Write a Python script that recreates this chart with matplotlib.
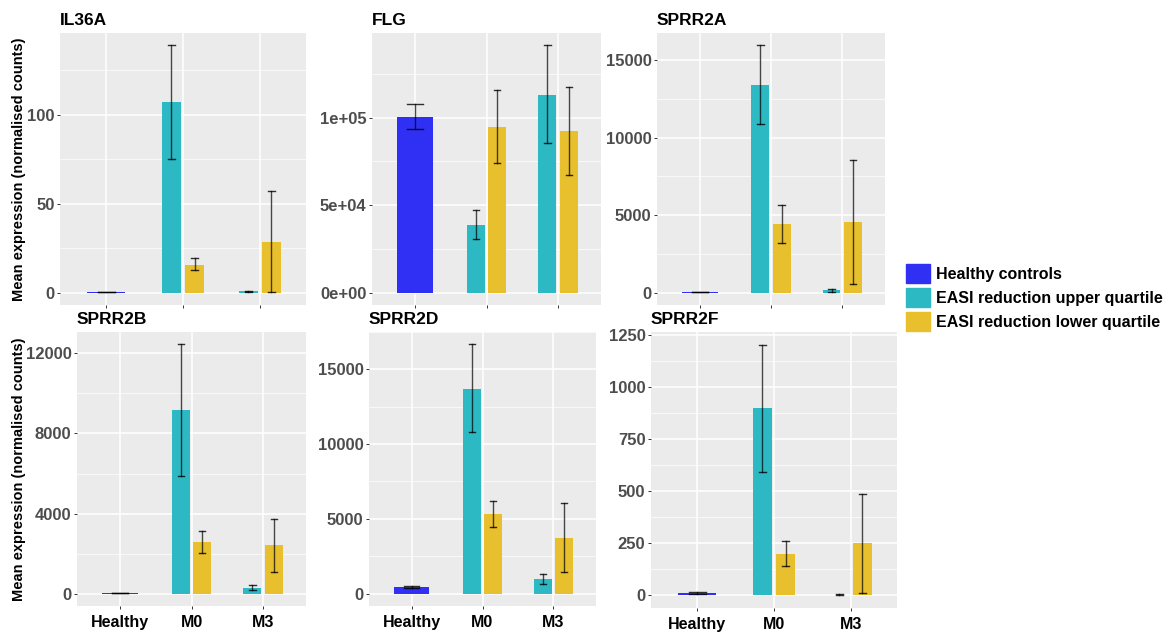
import matplotlib.pyplot as plt
from matplotlib.patches import Patch
import numpy as np

plt.rcParams['font.family'] = ['Liberation Sans', 'DejaVu Sans']

# data
genes = ["IL36A", "FLG", "SPRR2A", "SPRR2B", "SPRR2D", "SPRR2F"]
groups = ["Healthy", "M0", "M3"]
legend_labels = ["Healthy controls", "EASI reduction upper quartile", "EASI reduction lower quartile"]

healthy = [0.3, 100500, 20, 30, 420, 10]
healthy_lo = [0.1, 93700, 10, 20, 350, 5]
healthy_hi = [0.5, 107800, 30, 40, 500, 17]

# [M0, M3]
upper_q = [[106.9, 0.8], [38600, 112900], [13380, 150], [9170, 283], [13680, 1004], [900, 3]]
upper_q_lo = [[75.3, 0.4], [30500, 85400], [10880, 60], [5880, 180], [10820, 620], [591, 1]]
upper_q_hi = [[138.9, 1.2], [47160, 141300], [15940, 250], [12450, 420], [16670, 1340], [1204, 6]]

lower_q = [[15.8, 28.4], [94900, 92200], [4420, 4580], [2600, 2420], [5310, 3720], [200, 250]]
lower_q_lo = [[12.6, 0.2], [74000, 67000], [3180, 580], [2050, 1080], [4460, 1410], [143, 13]]
lower_q_hi = [[19.5, 57.1], [115700, 117600], [5670, 8550], [3130, 3720], [6160, 6090], [260, 488]]

y_steps = [50, 50000, 5000, 4000, 5000, 250]

colors = ['#3030F5', '#2DB9C3', '#E8BF2D']
W, H = 1175, 637
# panel boxes in pixels (left, top, right, bottom)
boxes = [(60, 33, 306, 305), (372, 33, 601, 305), (657, 33, 885, 305),
         (77, 332, 306, 606), (369, 332, 596, 606), (651, 332, 897, 608)]

fig = plt.figure(figsize=(W / 100, H / 100), dpi=100)


def errbar(ax, x, lo, hi, cap):
    ax.plot([x, x], [lo, hi], color='black', lw=1, alpha=0.7, zorder=4)
    for y in (lo, hi):
        ax.plot([x - cap / 2, x + cap / 2], [y, y], color='black', lw=1, alpha=0.8, zorder=4)


for i, g in enumerate(genes):
    l, t, r, b = boxes[i]
    ax = fig.add_axes([l / W, 1 - b / H, (r - l) / W, (b - t) / H])
    ax.set_facecolor('#EBEBEB')
    ax.set_axisbelow(True)
    for s in ax.spines.values():
        s.set_visible(False)

    xs = np.array([1, 2])
    ax.bar(0, healthy[i], width=0.5, color=colors[0], zorder=2)
    ax.bar(xs - 0.15, upper_q[i], width=0.25, color=colors[1], zorder=2)
    ax.bar(xs + 0.15, lower_q[i], width=0.25, color=colors[2], zorder=2)

    errbar(ax, 0, healthy_lo[i], healthy_hi[i], 0.22)
    for k in range(2):
        errbar(ax, xs[k] - 0.15, upper_q_lo[i][k], upper_q_hi[i][k], 0.09)
        errbar(ax, xs[k] + 0.15, lower_q_lo[i][k], lower_q_hi[i][k], 0.09)

    lo = min(0, healthy_lo[i], min(upper_q_lo[i]), min(lower_q_lo[i]))
    hi = max(healthy_hi[i], max(upper_q_hi[i]), max(lower_q_hi[i]))
    span = hi - lo
    ax.set_ylim(lo - 0.05 * span, hi + 0.05 * span)
    ax.set_xlim(-0.6, 2.6)

    step = y_steps[i]
    major = np.arange(0, hi + 0.05 * span, step)
    minor = np.arange(step / 2, hi + 0.05 * span, step)
    ax.set_yticks(major)
    ax.set_yticks(minor, minor=True)
    if g == "FLG":
        ax.set_yticklabels([f"{v:.0e}" for v in major])
    else:
        ax.set_yticklabels([f"{v:.0f}" for v in major])
    ax.set_xticks([0, 1, 2])
    if i >= 3:
        ax.set_xticklabels(groups, fontsize=11.5, fontweight='bold', color='black')
    else:
        ax.set_xticklabels([])

    ax.grid(which='major', color='white', lw=1.1)
    ax.grid(which='minor', axis='y', color='white', lw=0.5)
    ax.tick_params(which='major', length=2.5, width=0.7, color='#333333', pad=1.5)
    ax.tick_params(axis='x', pad=4)
    ax.tick_params(which='minor', length=0)
    for lab in ax.get_yticklabels():
        lab.set_fontsize(12)
        lab.set_fontweight('bold')
        lab.set_color('#4D4D4D')

    ax.set_title(g, loc='left', fontsize=12.5, fontweight='bold', pad=6)

for t, b in [(33, 305), (332, 606)]:
    fig.text(19 / W, 1 - (t + b) / 2 / H, "Mean expression (normalised counts)",
             rotation=90, ha='center', va='center', fontsize=10.5, fontweight='bold')

handles = [Patch(color=c) for c in colors]
fig.legend(handles, legend_labels, loc='upper left', bbox_to_anchor=(906 / W, 1 - 264 / H),
           frameon=False, prop={'size': 11.5, 'weight': 'bold'}, handlelength=1.5,
           handleheight=1.5, labelspacing=0.27, handletextpad=0.4, borderpad=0,
           borderaxespad=0)

fig.savefig('out.png', dpi=100)
